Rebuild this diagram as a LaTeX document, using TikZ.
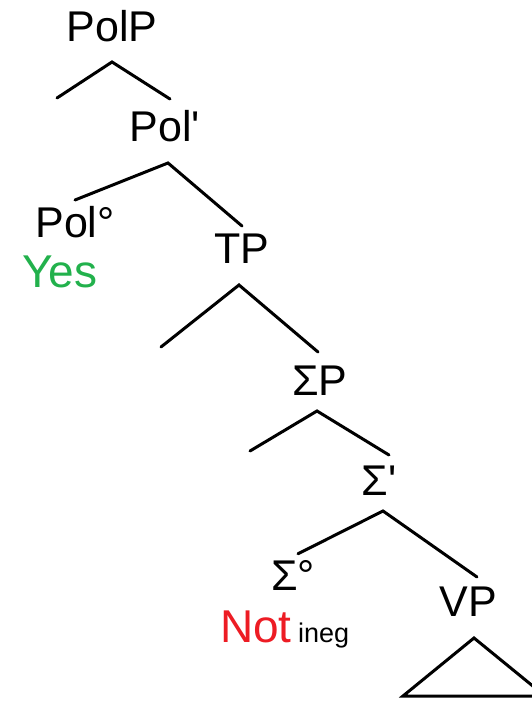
\documentclass[tikz,border=0pt]{standalone}
\usepackage{fontspec}
\setmainfont{Liberation Sans}
\usetikzlibrary{positioning}
\definecolor{yesgreen}{RGB}{34,177,76}
\definecolor{notred}{RGB}{237,28,36}

\begin{document}
\begin{tikzpicture}[x=1pt, y=-1pt,
  cat/.style={inner sep=0pt, font=\fontsize{43}{50}\selectfont},
  word/.style={inner sep=0pt, font=\fontsize{46}{54}\selectfont},
  branch/.style={line width=3pt, line cap=round}
]
\useasboundingbox (0,0) rectangle (531,701);
\node[cat] (polp) at (112,26) {PolP};
\node[cat] (polbar) at (165,126) {Pol\textquotesingle};
\node[cat] (polhead) at (75,222) {Pol°};
\node[word, text=yesgreen] (yes) at (60,272) {Yes};
\node[cat] (tp) at (242,249) {TP};
\node[cat] (sigmap) at (320,381) {ΣP};
\node[cat] (sigmabar) at (379,481) {Σ\textquotesingle};
\node[cat] (sigmahead) at (293,575) {Σ°};
\node[word, text=notred, anchor=base west] (neg) at (220,642) {Not};
\node[inner sep=0pt, font=\fontsize{27}{32}\selectfont, anchor=base west] (ineg) at ([xshift=6pt]neg.base east) {ineg};
\node[cat] (vp) at (468,602) {VP};
% empty specifiers
\coordinate (spec1) at (57,98);
\coordinate (spec2) at (161,347);
\coordinate (spec3) at (250,451);
% branches
\draw[branch] (spec1) -- ([yshift=-20pt]polp.south) -- ([xshift=5pt,yshift=11pt]polbar.north);
\draw[branch] ([yshift=6pt]polhead.north) -- ([xshift=3pt,yshift=-21pt]polbar.south) -- ([yshift=8pt]tp.north);
\draw[branch] (spec2) -- ([xshift=-3pt,yshift=-21pt]tp.south) -- ([xshift=-2pt,yshift=14pt]sigmap.north);
\draw[branch] (spec3) -- ([xshift=-3pt,yshift=-15pt]sigmap.south) -- ([xshift=10pt,yshift=11pt]sigmabar.north);
\draw[branch] ([xshift=5pt,yshift=6pt]sigmahead.north) -- ([xshift=4pt,yshift=-15pt]sigmabar.south) -- ([xshift=9pt,yshift=10pt]vp.north);
\draw[branch] ([xshift=6pt,yshift=-21pt]vp.south) -- ++(-71,58) -- ++(142,0) -- cycle;
\end{tikzpicture}
\end{document}
